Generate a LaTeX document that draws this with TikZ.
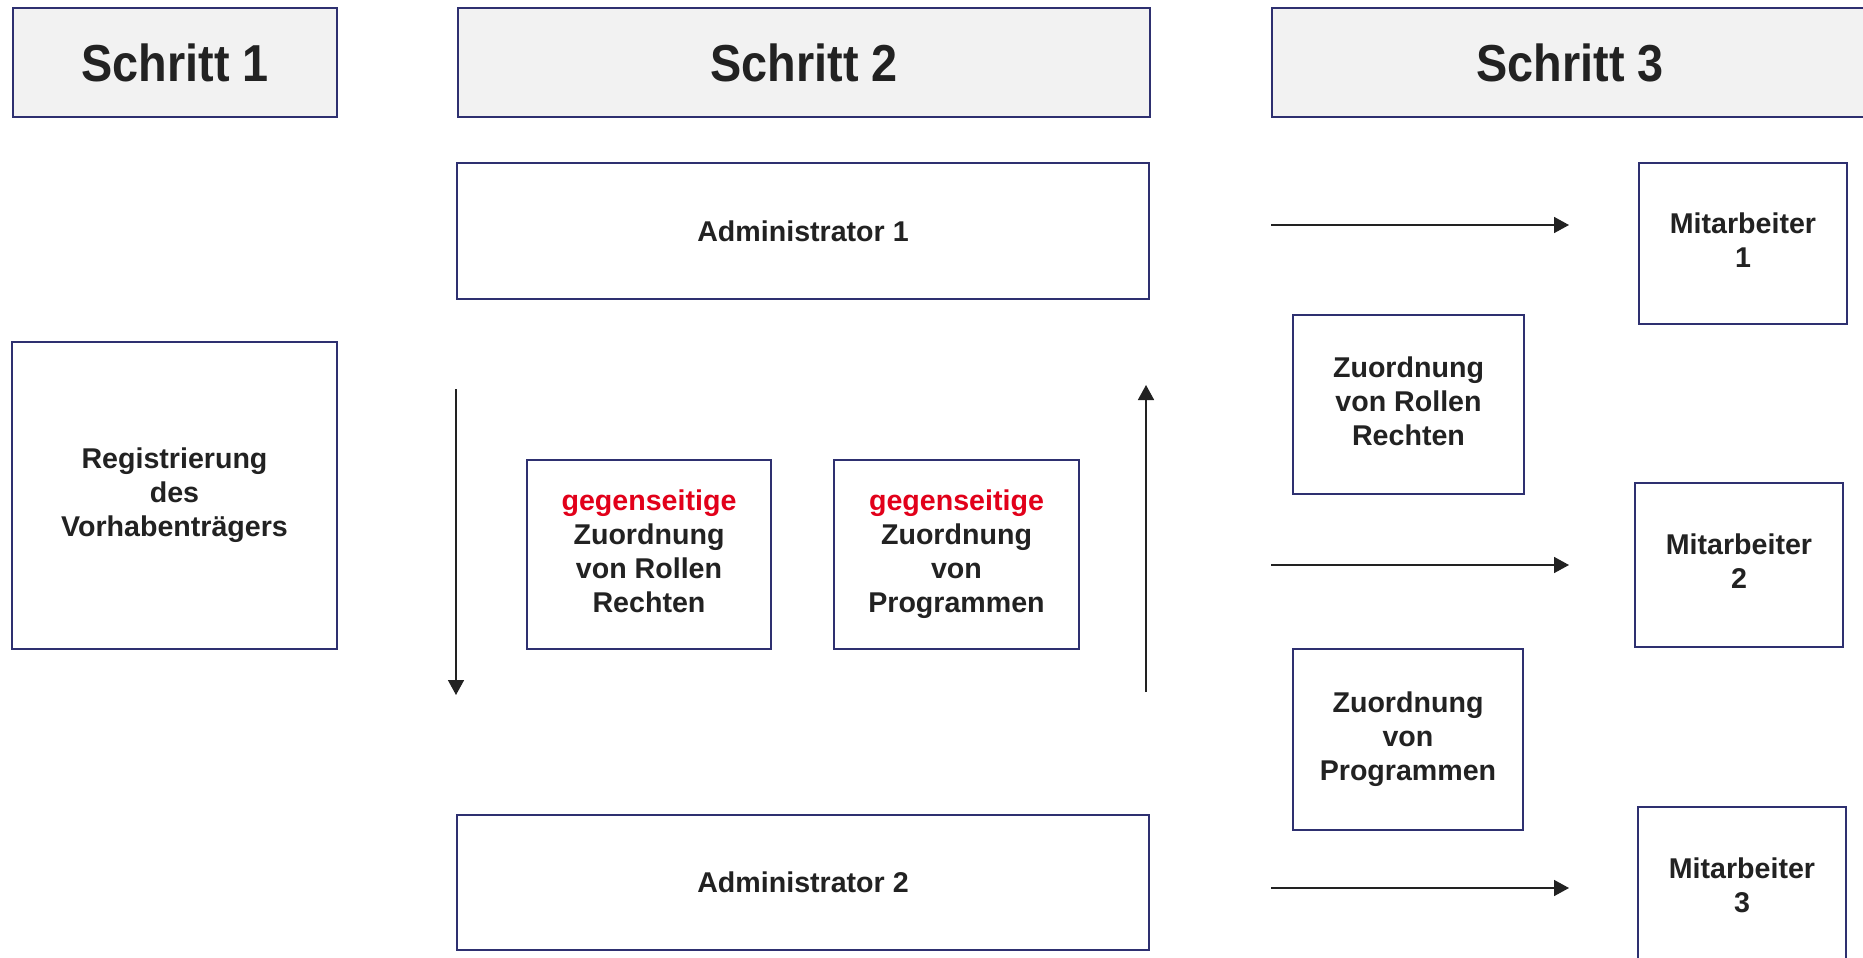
\documentclass[tikz,border=0pt]{standalone}
\usepackage{fontspec}
\setmainfont{Liberation Sans}
\newfontfamily\headfont[FakeStretch=0.9]{Liberation Sans}
\usepackage{xcolor}
\definecolor{signalred}{HTML}{E2001A}
\definecolor{boxblue}{HTML}{2E3070}
\definecolor{headgray}{HTML}{F2F2F2}
\definecolor{ink}{HTML}{222222}
\newcommand{\signal}[1]{\textcolor{signalred}{#1}}
\usepackage{tikz}
\usetikzlibrary{arrows.meta}

\begin{document}
\begin{tikzpicture}[x=0.5pt,y=-0.5pt,
    every node/.style={inner sep=0,outer sep=0,text=ink},
    box/.style={draw=boxblue,line width=1.1pt,fill=white,font=\fontsize{14.3}{17}\selectfont\bfseries},
    head/.style={box,fill=headgray,font=\headfont\fontsize{26}{30}\selectfont\bfseries},
    arr/.style={draw=ink,line width=0.8pt,-{Triangle[length=7.5pt,width=8pt]}}]
    \fill[white] (0,0) rectangle (1863,958);
    \useasboundingbox (0,0) rectangle (1863,958);

    \node(s1)[head,minimum width=162pt,minimum height=54.5pt] at (175,62.5) {Schritt 1};
    \node(s2)[head,minimum width=346pt,minimum height=54.5pt] at (804,62.5) {Schritt 2};
    \node(s3)[head,minimum width=298pt,minimum height=54.5pt] at (1570,62.5) {Schritt 3};

    \node(reg)[box,minimum width=162.5pt,minimum height=153.5pt] at (174.5,495.5) {
      \begin{tabular}{c}
        Registrierung\\
        des\\
        Vorhabenträgers
      \end{tabular}
    };

    \node(a1)[box,minimum width=346pt,minimum height=68pt] at (803,231) {Administrator 1};
    \node(a2)[box,minimum width=346pt,minimum height=67.5pt] at (803,882.5) {Administrator 2};

    \node(g1)[box,minimum width=122pt,minimum height=94.5pt] at (649,554.5) {
      \begin{tabular}{c}
        \signal{gegenseitige}\\
        Zuordnung\\
        von Rollen\\
        Rechten
      \end{tabular}
    };
    \node(g2)[box,minimum width=122.5pt,minimum height=94.5pt] at (956.5,554.5) {
      \begin{tabular}{c}
        \signal{gegenseitige}\\
        Zuordnung\\
        von\\
        Programmen
      \end{tabular}
    };

    \coordinate (dn1) at (456,389);
    \coordinate (dn2) at (456,695);
    \coordinate (up1) at (1146,692);
    \coordinate (up2) at (1146,385);
    \draw [arr] (dn1) -- (dn2);
    \draw [arr] (up1) -- (up2);

    \node(z1)[box,minimum width=115.5pt,minimum height=89.5pt] at (1408.5,404.5) {
      \begin{tabular}{c}
        Zuordnung\\
        von Rollen\\
        Rechten
      \end{tabular}
    };
    \node(z2)[box,minimum width=115pt,minimum height=90.5pt] at (1408,739.5) {
      \begin{tabular}{c}
        Zuordnung\\
        von\\
        Programmen
      \end{tabular}
    };

    \node(m1)[box,minimum width=104pt,minimum height=80.5pt] at (1743,243.5) {\begin{tabular}{c}Mitarbeiter\\1\end{tabular}};
    \node(m2)[box,minimum width=104pt,minimum height=82pt] at (1739,565) {\begin{tabular}{c}Mitarbeiter\\2\end{tabular}};
    \node(m3)[box,minimum width=104pt,minimum height=81.5pt] at (1742,888.5) {\begin{tabular}{c}Mitarbeiter\\3\end{tabular}};

    \coordinate (r1s) at (1271,225);
    \coordinate (r1e) at (1569,225);
    \coordinate (r2s) at (1271,565);
    \coordinate (r2e) at (1569,565);
    \coordinate (r3s) at (1271,888);
    \coordinate (r3e) at (1569,888);
    \draw [arr] (r1s) -- (r1e);
    \draw [arr] (r2s) -- (r2e);
    \draw [arr] (r3s) -- (r3e);
\end{tikzpicture}
\end{document}
